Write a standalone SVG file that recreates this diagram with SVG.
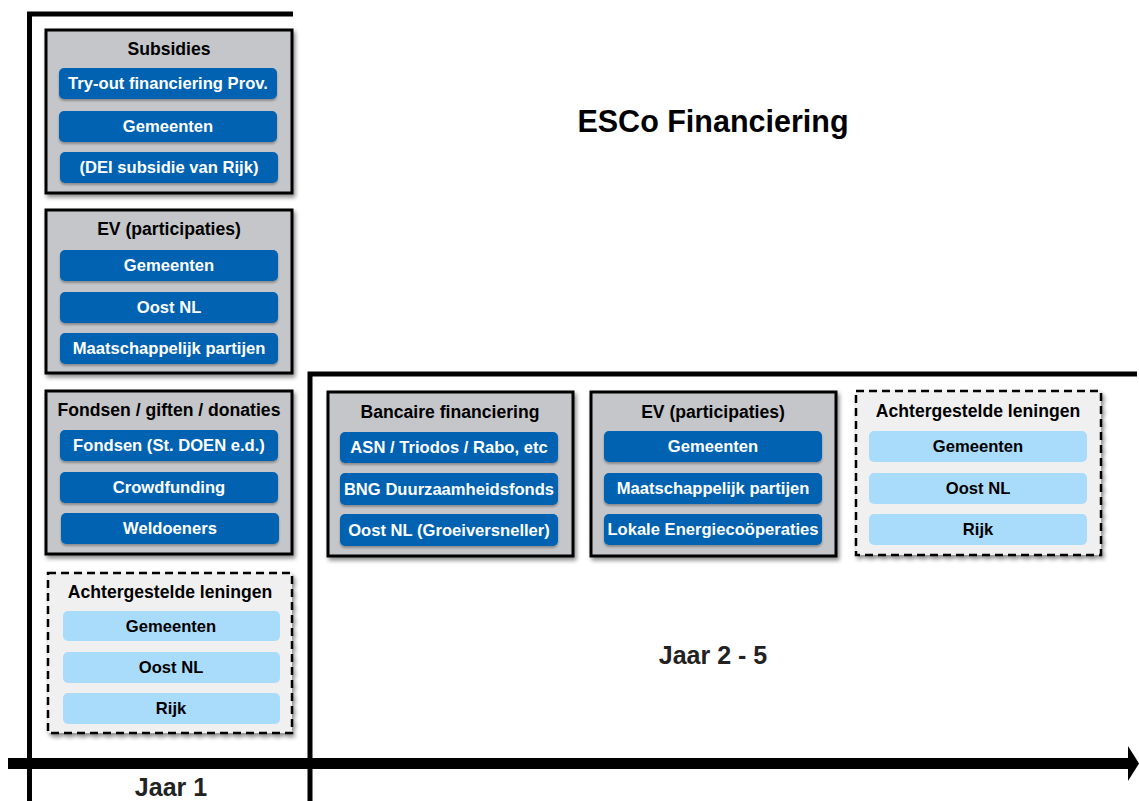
<svg xmlns="http://www.w3.org/2000/svg" width="1139" height="801" viewBox="0 0 1139 801">
  <defs>
    <filter id="shadow" x="-10%" y="-10%" width="125%" height="125%">
      <feGaussianBlur in="SourceAlpha" stdDeviation="2"/>
      <feOffset dx="2" dy="3" result="b"/>
      <feComponentTransfer><feFuncA type="linear" slope="0.45"/></feComponentTransfer>
      <feMerge><feMergeNode/><feMergeNode in="SourceGraphic"/></feMerge>
    </filter>
    <filter id="pillshadow" x="-5%" y="-20%" width="110%" height="150%">
      <feGaussianBlur in="SourceAlpha" stdDeviation="1"/>
      <feOffset dx="0" dy="1.5" result="b"/>
      <feComponentTransfer><feFuncA type="linear" slope="0.3"/></feComponentTransfer>
      <feMerge><feMergeNode/><feMergeNode in="SourceGraphic"/></feMerge>
    </filter>
  </defs>
  <style>
    text { font-family: "Liberation Sans", Arial, sans-serif; font-weight: bold; text-anchor: middle; dominant-baseline: central; }
    .box { fill: #c4c6c9; stroke: #000; stroke-width: 3; filter: url(#shadow); }
    .dbox { fill: #f0f0f0; stroke: #000; stroke-width: 2.5; stroke-dasharray: 8 5; filter: url(#shadow); }
    .pill { fill: #0662b0; filter: url(#pillshadow); }
    .lpill { fill: #a9dcfb; }
    .title { font-size: 17.6px; fill: #000; }
    .ptext { font-size: 16.6px; fill: #fff; }
    .ltext { font-size: 16.6px; fill: #000; }
    .frame { stroke: #000; stroke-width: 5; fill: none; }
    .big { font-size: 30.5px; fill: #000; }
    .year { font-size: 25px; fill: #222; }
  </style>

  <!-- timeline frame and axis -->
  <g id="connectors">
    <path class="frame" d="M29.5,801 V14 H293"/>
    <path class="frame" d="M310,801 V374 H1137"/>
    <rect x="8" y="758" width="1122" height="11" fill="#000"/>
    <polygon points="1128,746 1139,763.5 1128,781" fill="#000"/>
  </g>

  <text class="big" x="713" y="121">ESCo Financiering</text>
  <text class="year" x="713" y="655">Jaar 2 - 5</text>
  <text class="year" x="171" y="787">Jaar 1</text>

  <g id="subsidies">
    <rect class="box" x="46" y="30" width="246" height="163"/>
    <text class="title" x="169" y="49">Subsidies</text>
    <rect class="pill" x="59" y="68" width="218" height="31" rx="5"/>
    <text class="ptext" x="168" y="83.5">Try-out financiering Prov.</text>
    <rect class="pill" x="59" y="111" width="218" height="31" rx="5"/>
    <text class="ptext" x="168" y="126.5">Gemeenten</text>
    <rect class="pill" x="60" y="152" width="218" height="31" rx="5"/>
    <text class="ptext" x="169" y="167.5">(DEI subsidie van Rijk)</text>
  </g>

  <g id="ev-jaar1">
    <rect class="box" x="46" y="210" width="246" height="163"/>
    <text class="title" x="169" y="229">EV (participaties)</text>
    <rect class="pill" x="60" y="250" width="218" height="31" rx="5"/>
    <text class="ptext" x="169" y="265.5">Gemeenten</text>
    <rect class="pill" x="60" y="292" width="218" height="31" rx="5"/>
    <text class="ptext" x="169" y="307.5">Oost NL</text>
    <rect class="pill" x="60" y="333" width="218" height="31" rx="5"/>
    <text class="ptext" x="169" y="348.5">Maatschappelijk partijen</text>
  </g>

  <g id="fondsen">
    <rect class="box" x="46" y="391" width="246" height="163"/>
    <text class="title" x="169" y="410">Fondsen / giften / donaties</text>
    <rect class="pill" x="60" y="430" width="218" height="31" rx="5"/>
    <text class="ptext" x="169" y="445.5">Fondsen (St. DOEN e.d.)</text>
    <rect class="pill" x="60" y="472" width="218" height="31" rx="5"/>
    <text class="ptext" x="169" y="487.5">Crowdfunding</text>
    <rect class="pill" x="61" y="513" width="218" height="31" rx="5"/>
    <text class="ptext" x="170" y="528.5">Weldoeners</text>
  </g>

  <g id="achtergesteld-jaar1">
    <rect class="dbox" x="48" y="573" width="244" height="160"/>
    <text class="title" x="170" y="592">Achtergestelde leningen</text>
    <rect class="lpill" x="63" y="611" width="217" height="30" rx="5"/>
    <text class="ltext" x="171" y="626">Gemeenten</text>
    <rect class="lpill" x="63" y="652" width="217" height="31" rx="5"/>
    <text class="ltext" x="171" y="667.5">Oost NL</text>
    <rect class="lpill" x="63" y="693" width="217" height="31" rx="5"/>
    <text class="ltext" x="171" y="708.5">Rijk</text>
  </g>

  <g id="bancaire">
    <rect class="box" x="328" y="392" width="245" height="164"/>
    <text class="title" x="450" y="412">Bancaire financiering</text>
    <rect class="pill" x="340" y="432" width="218" height="31" rx="5"/>
    <text class="ptext" x="449" y="447.5">ASN / Triodos / Rabo, etc</text>
    <rect class="pill" x="340" y="473" width="218" height="32" rx="5"/>
    <text class="ptext" x="449" y="489">BNG Duurzaamheidsfonds</text>
    <rect class="pill" x="340" y="514" width="218" height="32" rx="5"/>
    <text class="ptext" x="449" y="530">Oost NL (Groeiversneller)</text>
  </g>

  <g id="ev-jaar2">
    <rect class="box" x="591" y="392" width="245" height="164"/>
    <text class="title" x="713" y="412">EV (participaties)</text>
    <rect class="pill" x="604" y="431" width="218" height="31" rx="5"/>
    <text class="ptext" x="713" y="446.5">Gemeenten</text>
    <rect class="pill" x="604" y="473" width="218" height="31" rx="5"/>
    <text class="ptext" x="713" y="488.5">Maatschappelijk partijen</text>
    <rect class="pill" x="604" y="514" width="218" height="31" rx="5"/>
    <text class="ptext" x="713" y="529.5">Lokale Energiecoöperaties</text>
  </g>

  <g id="achtergesteld-jaar2">
    <rect class="dbox" x="856" y="391" width="245" height="164"/>
    <text class="title" x="978" y="411">Achtergestelde leningen</text>
    <rect class="lpill" x="869" y="431" width="218" height="31" rx="5"/>
    <text class="ltext" x="978" y="446.5">Gemeenten</text>
    <rect class="lpill" x="869" y="473" width="218" height="31" rx="5"/>
    <text class="ltext" x="978" y="488.5">Oost NL</text>
    <rect class="lpill" x="869" y="514" width="218" height="31" rx="5"/>
    <text class="ltext" x="978" y="529.5">Rijk</text>
  </g>
</svg>
